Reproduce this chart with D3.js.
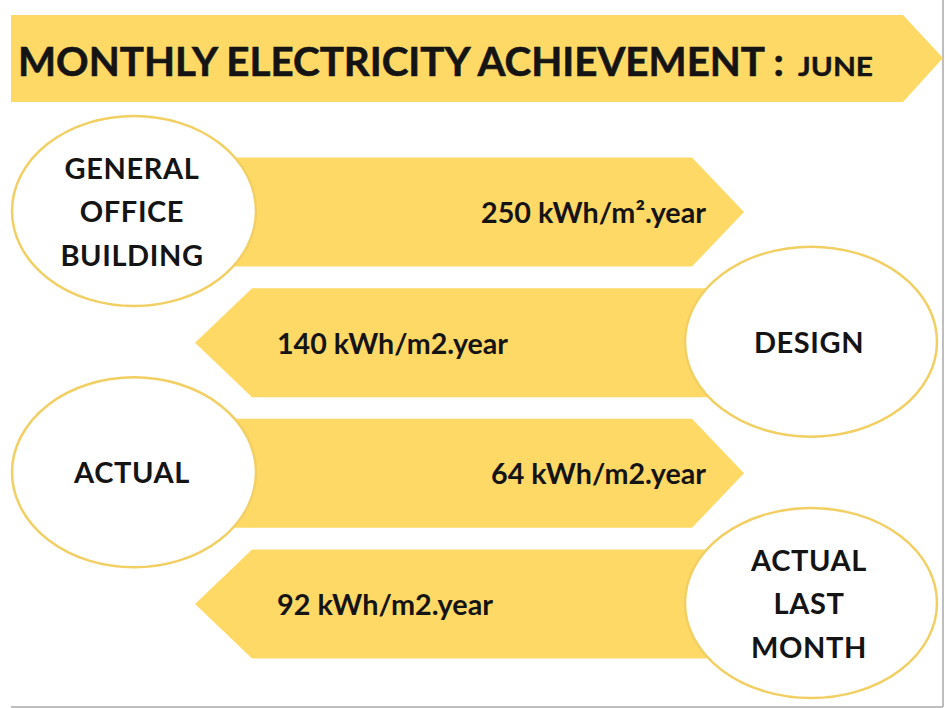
<!DOCTYPE html>
<html>
<head>
<meta charset="utf-8">
<script src="https://cdn.jsdelivr.net/npm/d3@7/dist/d3.min.js"></script>
<style>
  body { margin: 0; background: #fff; }
  text { font-family: Lato, "Open Sans", sans-serif; font-weight: bold; fill: #141414; }
</style>
</head>
<body>
<script>
'use strict';

// data
let titleMain = "MONTHLY ELECTRICITY ACHIEVEMENT :";
let titleMonth = "JUNE";
let categories = ["GENERAL OFFICE BUILDING", "DESIGN", "ACTUAL", "ACTUAL LAST MONTH"];
let labelLines = [["GENERAL", "OFFICE", "BUILDING"], ["DESIGN"], ["ACTUAL"], ["ACTUAL", "LAST", "MONTH"]];
let values = [250, 140, 64, 92];
let units = ["kWh/m\u00B2.year", "kWh/m2.year", "kWh/m2.year", "kWh/m2.year"];
let directions = ["right", "left", "right", "left"];

let width = 945, height = 708;
let gold = "#FFD966";

let svg = d3.select("body").append("svg")
  .attr("width", width)
  .attr("height", height);

// slide edge
svg.append("line").attr("x1", 943).attr("x2", 943).attr("y1", 0).attr("y2", 707)
  .style("stroke", "#a8a8a8").style("stroke-width", 1.5);
svg.append("line").attr("x1", 11).attr("x2", 943).attr("y1", 707).attr("y2", 707)
  .style("stroke", "#a8a8a8").style("stroke-width", 1.5);

// title banner
let line = d3.line();
svg.append("path")
  .attr("d", line([[11, 15], [903, 15], [943, 58], [903, 102], [11, 102]]) + "Z")
  .style("fill", gold);
svg.append("text")
  .attr("x", 18).attr("y", 76)
  .style("font-size", "40px")
  .style("stroke", "#141414").style("stroke-width", 0.6)
  .attr("textLength", 766).attr("lengthAdjust", "spacingAndGlyphs")
  .text(titleMain);
svg.append("text")
  .attr("x", 798).attr("y", 76)
  .style("font-size", "27px")
  .style("stroke", "#141414").style("stroke-width", 0.4)
  .attr("textLength", 75).attr("lengthAdjust", "spacingAndGlyphs")
  .text(titleMonth);

// row positions
let y = d3.scalePoint().domain(categories).range([212, 604]);
let arrowH = 109;
let valueWidths = [225, 231, 215, 216];

let rows = categories.map((c, i) => ({
  cat: c, lines: labelLines[i], value: values[i], unit: units[i], dir: directions[i], w: valueWidths[i]
}));

let g = svg.selectAll(".row").data(rows).enter().append("g").attr("class", "row");

// arrows
g.append("path")
  .style("fill", gold)
  .attr("d", function(d) {
    let cy = y(d.cat), t = cy - arrowH / 2, b = cy + arrowH / 2;
    if (d.dir == "right") {
      return line([[235, t], [692, t], [744, cy], [692, b], [235, b]]) + "Z";
    } else {
      return line([[195, cy], [252, t], [730, t], [730, b], [252, b]]) + "Z";
    }
  });

// value text
g.append("text")
  .attr("x", d => d.dir == "right" ? 706 - d.w : 277)
  .attr("y", d => y(d.cat) + 11)
  .style("font-size", "28px")
  .attr("textLength", d => d.w).attr("lengthAdjust", "spacingAndGlyphs")
  .text(d => d.value + " " + d.unit);

// ellipses
g.append("ellipse")
  .attr("cx", d => d.dir == "right" ? 134 : 811)
  .attr("cy", d => y(d.cat) - 1)
  .attr("rx", d => d.dir == "right" ? 122 : 126)
  .attr("ry", 95)
  .style("fill", "#fff")
  .style("stroke", "#F2CF63")
  .style("stroke-width", 2.5);

// ellipse labels
g.each(function(d) {
  let cx = d.dir == "right" ? 132 : 809;
  let n = d.lines.length;
  let lh = 43.5;
  d3.select(this).selectAll(".lbl").data(d.lines).enter().append("text")
    .attr("class", "lbl")
    .attr("x", cx)
    .attr("y", (l, i) => y(d.cat) + 10 + (i - (n - 1) / 2) * lh)
    .attr("text-anchor", "middle")
    .style("font-size", "29px")
    .style("letter-spacing", "0.6px")
    .text(l => l);
});
</script>
</body>
</html>
